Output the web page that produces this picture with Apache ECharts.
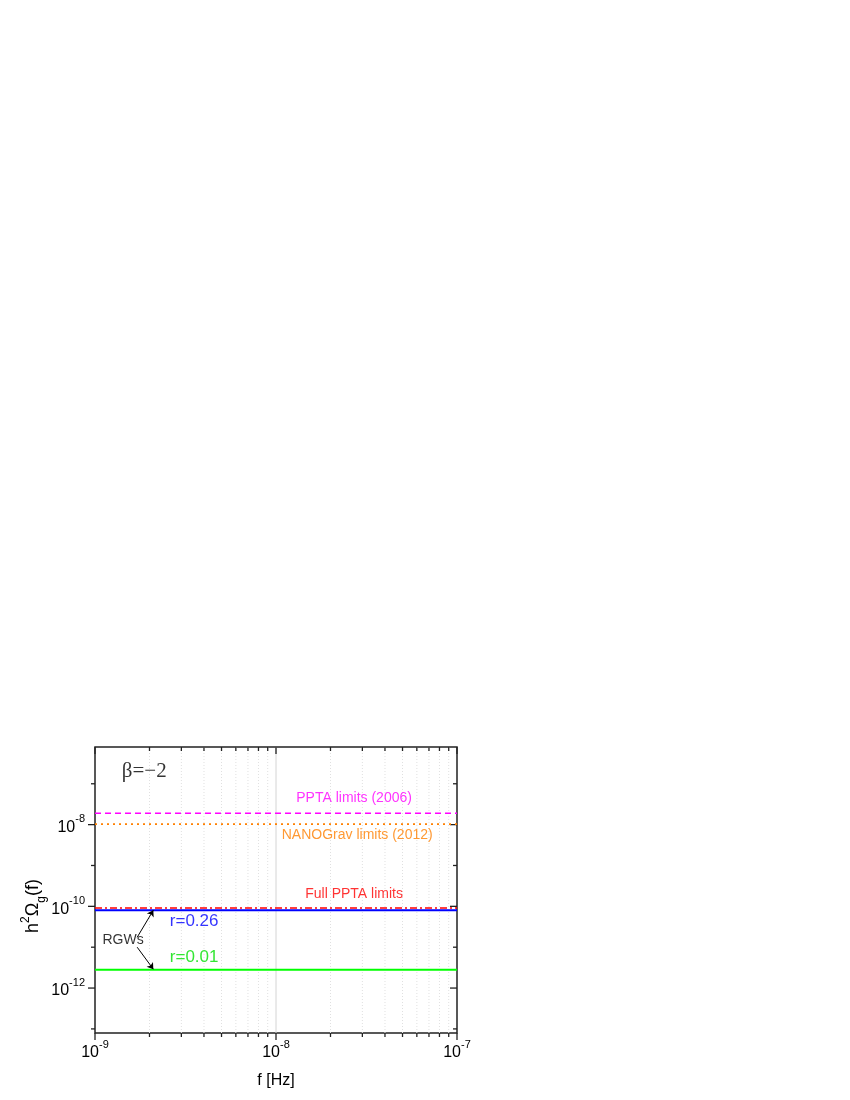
<!DOCTYPE html>
<html><head><meta charset="utf-8">
<script src="https://cdn.jsdelivr.net/npm/echarts@6/dist/echarts.min.js"></script>
<style>html,body{margin:0;padding:0;background:#fff}#c{width:850px;height:1100px}</style>
</head><body><div id="c"></div>
<script>
// ---- data ----
const xRange = [1e-9, 1e-7];
const yRange = [Math.pow(10, -13.1), Math.pow(10, -6.1)];
const xMajorTicks = [1e-9, 1e-8, 1e-7];
const xMinorTicks = [2e-9, 3e-9, 4e-9, 5e-9, 6e-9, 7e-9, 8e-9, 9e-9,
                     2e-8, 3e-8, 4e-8, 5e-8, 6e-8, 7e-8, 8e-8, 9e-8];
const yMajorTicks = [1e-12, 1e-10, 1e-8];
const yMinorTicks = [1e-13, 1e-11, 1e-9, 1e-7];
const limitNames = ['PPTA limits (2006)', 'NANOGrav limits (2012)', 'Full PPTA limits'];
const limitValues = [1.9e-8, 1.03e-8, 9.1e-11];
const rgwNames = ['r=0.26', 'r=0.01'];
const rgwValues = [8.0e-11, 2.8e-12];

// annotation anchors (data coordinates)
const annoTexts = ['\u03b2=\u22122', 'PPTA limits (2006)', 'NANOGrav limits (2012)', 'Full PPTA limits', 'r=0.26', 'r=0.01', 'RGWs'];
const annoX = [1.87e-9, 2.70e-8, 2.81e-8, 2.70e-8, 2.59e-9, 2.59e-9, 1.10e-9];
const annoY = [2.03e-7, 4.52e-8, 5.54e-9, 2.0e-10, 4.2e-11, 5.75e-12, 1.45e-11];
const arrowFrom = [[1.71e-9, 1.75e-11], [1.71e-9, 1.0e-11]];
const arrowTo = [[2.10e-9, 8.0e-11], [2.10e-9, 2.9e-12]];

// ---- styles ----
const AX = '#222';
const FONT = '"Liberation Sans", Arial, sans-serif';
const limitColors = ['#ff00ff', '#ff8000', '#ff0000'];
const limitDash = [[6, 4], [2, 4], [7, 3, 2, 3]];
const rgwColors = ['#0000ff', '#00ff00'];
const annoStyle = [
  {color: '#000', fontSize: 21, fontFamily: '"Liberation Serif", "Times New Roman", serif', align: 'center'},
  {color: '#ff00ff', fontSize: 14, fontFamily: FONT, align: 'center'},
  {color: '#ff8000', fontSize: 14, fontFamily: FONT, align: 'center'},
  {color: '#ff0000', fontSize: 14, fontFamily: FONT, align: 'center'},
  {color: '#0000ff', fontSize: 17, fontFamily: FONT, align: 'left'},
  {color: '#00e000', fontSize: 17, fontFamily: FONT, align: 'left'},
  {color: '#000', fontSize: 14, fontFamily: FONT, align: 'left'}
];

function powLabel(v) {
  const e = Math.log10(v);
  const r = Math.round(e);
  if (Math.abs(e - r) > 1e-6) return '';
  return r;
}
const richPow = {
  b: {fontSize: 16, fontFamily: FONT, color: '#000', lineHeight: 22, verticalAlign: 'bottom'},
  s: {fontSize: 11, fontFamily: FONT, color: '#000', lineHeight: 12, verticalAlign: 'top'}
};

const xTickData = xMajorTicks.map(v => [v, 1e-10, 1]).concat(xMinorTicks.map(v => [v, 1e-10, 0]));
const yTickData = yMajorTicks.map(v => [2e-9, v, 1]).concat(yMinorTicks.map(v => [2e-9, v, 0]));

const series = [];
series.push({
  type: 'custom', z: 1, silent: true, clip: false,
  data: xTickData, encode: {x: 0, y: 1},
  renderItem: function (params, api) {
    const cs = params.coordSys;
    const px = api.coord([api.value(0), api.value(1)])[0];
    const major = api.value(2) === 1;
    const len = major ? 7 : 4;
    const top = cs.y, bot = cs.y + cs.height;
    const ch = [];
    if (px > cs.x + 1 && px < cs.x + cs.width - 1) {
      ch.push({type: 'line', shape: {x1: px, y1: top, x2: px, y2: bot},
        style: {stroke: major ? '#d4d4d4' : '#e0e0e0', lineWidth: 1, lineDash: major ? null : [1, 2]}});
    }
    ch.push({type: 'line', shape: {x1: px, y1: bot, x2: px, y2: bot + len}, style: {stroke: AX, lineWidth: 1.3}});
    ch.push({type: 'line', shape: {x1: px, y1: top, x2: px, y2: top + len}, style: {stroke: AX, lineWidth: 1.3}});
    return {type: 'group', children: ch};
  }
});
series.push({
  type: 'custom', z: 1, silent: true, clip: false,
  data: yTickData, encode: {x: 0, y: 1},
  renderItem: function (params, api) {
    const cs = params.coordSys;
    const py = api.coord([api.value(0), api.value(1)])[1];
    const major = api.value(2) === 1;
    const len = major ? 7 : 4;
    const l = cs.x, r = cs.x + cs.width;
    return {type: 'group', children: [
      {type: 'line', shape: {x1: l - len, y1: py, x2: l, y2: py}, style: {stroke: AX, lineWidth: 1.3}},
      {type: 'line', shape: {x1: r - len, y1: py, x2: r, y2: py}, style: {stroke: AX, lineWidth: 1.3}}
    ]};
  }
});
limitNames.forEach((n, i) => {
  series.push({
    type: 'line', name: n, z: 3, symbol: 'none', silent: true,
    data: [[xRange[0], limitValues[i]], [xRange[1], limitValues[i]]],
    lineStyle: {color: limitColors[i], width: 1.6, type: limitDash[i]}
  });
});
rgwNames.forEach((n, i) => {
  series.push({
    type: 'line', name: n, z: 3, symbol: 'none', silent: true,
    data: [[xRange[0], rgwValues[i]], [xRange[1], rgwValues[i]]],
    lineStyle: {color: rgwColors[i], width: 1.9, type: 'solid'}
  });
});
series.push({
  type: 'lines', coordinateSystem: 'cartesian2d', z: 5, silent: true,
  symbol: ['none', 'arrow'], symbolSize: 6,
  lineStyle: {color: '#000', width: 1, opacity: 1},
  data: arrowFrom.map((f, i) => ({coords: [f, arrowTo[i]]}))
});
series.push({
  type: 'scatter', z: 6, silent: true, symbolSize: 1,
  itemStyle: {color: 'transparent'},
  data: annoTexts.map((t, i) => ({
    name: t, value: [annoX[i], annoY[i]],
    label: Object.assign({show: true, position: 'inside', verticalAlign: 'middle', formatter: t}, annoStyle[i])
  }))
});

const option = {
  animation: false,
  backgroundColor: '#fff',
  grid: {left: 95, top: 747, width: 362, height: 286, show: true, borderColor: AX, borderWidth: 1.5, backgroundColor: 'transparent'},
  xAxis: {
    type: 'log', logBase: 10, min: xRange[0], max: xRange[1],
    name: 'f [Hz]', nameLocation: 'middle', nameGap: 40,
    nameTextStyle: {fontSize: 16, fontFamily: FONT, color: '#000'},
    axisLine: {show: false}, axisTick: {show: false}, splitLine: {show: false},
    axisLabel: {
      margin: 6, interval: 0, showMinLabel: true, showMaxLabel: true,
      formatter: v => { const r = powLabel(v); return r === '' ? '' : '{b|10}{s|' + r + '}'; },
      rich: richPow
    }
  },
  yAxis: {
    type: 'log', logBase: 10, min: yRange[0], max: yRange[1],
    name: 'h{s|2}\u03a9{g|g}(f)', nameLocation: 'middle', nameGap: 50, nameRotate: 90,
    nameTextStyle: {
      fontSize: 18, fontFamily: FONT, color: '#000', lineHeight: 28, verticalAlign: 'middle',
      padding: [0, 32, 0, 0],
      rich: {
        s: {fontSize: 12, fontFamily: FONT, color: '#000', lineHeight: 28, verticalAlign: 'top'},
        g: {fontSize: 12, fontFamily: FONT, color: '#000', lineHeight: 28, verticalAlign: 'bottom'}
      }
    },
    axisLine: {show: false}, axisTick: {show: false}, splitLine: {show: false},
    axisLabel: {
      margin: 10, interval: 0,
      formatter: v => { const r = powLabel(v); return (r === '' || r % 2 !== 0) ? '' : '{b|10}{s|' + r + '}'; },
      rich: richPow
    }
  },
  series: series
};
const chart = echarts.init(document.getElementById('c'), null, {renderer: 'canvas'});
chart.setOption(option);
</script>
</body></html>
